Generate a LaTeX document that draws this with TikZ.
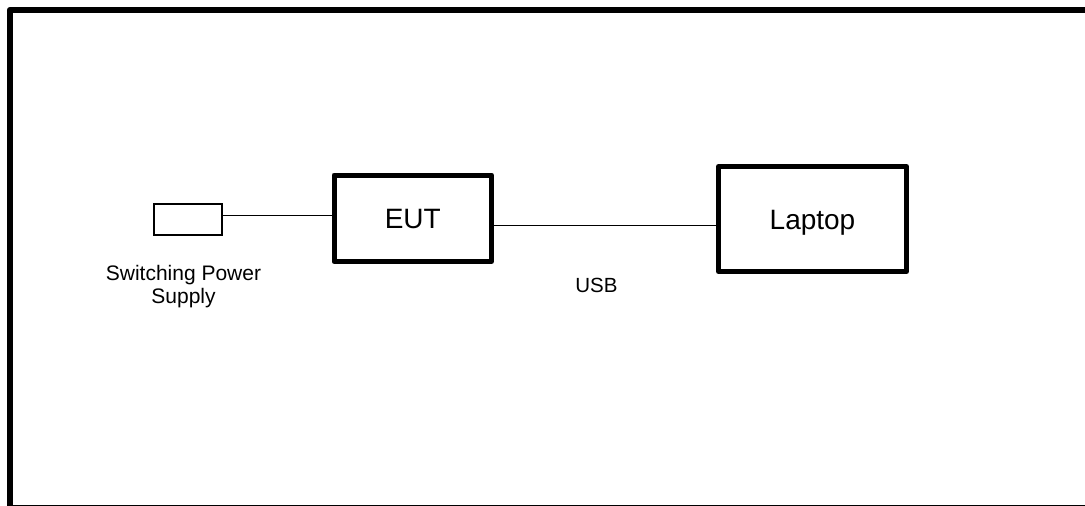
\documentclass[tikz,border=0pt]{standalone}
\usepackage{fontspec}
\setmainfont{Liberation Sans}
\begin{document}
\begin{tikzpicture}[x=1pt,y=-1pt,
  frame/.style={line width=5.5pt,line join=round},
  bigbox/.style={draw,line width=5pt,line join=round,inner sep=0pt,
    text height=20.3pt,text depth=0pt,font=\fontsize{28}{28}\selectfont},
  psubox/.style={draw,line width=2pt,inner sep=0pt,minimum width=68.6pt,minimum height=31.3pt},
  wire/.style={line width=1pt},
  lbl/.style={inner sep=0pt,align=center}]
\useasboundingbox (0,0) rectangle (1085,506);
\clip (0,0) rectangle (1085,506);
\fill[white] (0,0) rectangle (1085,506);
% outer frame (partly cut off)
\draw[frame] (9.75,520) -- (9.75,9.75) -- (1100,9.75);
\draw[line width=1.5pt] (9.75,505.5) -- (1100,505.5);
% nodes
\node[psubox] (psu) at (188,219.3) {};
\node[bigbox,minimum width=157.5pt,minimum height=86.5pt] (eut) at (412.75,218.25) {EUT};
\node[bigbox,minimum width=188pt,minimum height=105pt] (laptop) at (812.5,219) {Laptop};
% labels
\node[lbl,anchor=north,font=\fontsize{21}{23.5}\selectfont] (psulbl) at (183.5,264.6) {Switching Power\\Supply};
\node[lbl,anchor=base,font=\fontsize{20.5}{20.5}\selectfont] (usblbl) at (596.5,292.7) {USB};
% connectors
\draw[wire] ([yshift=4.3pt]psu.east) -- ([yshift=4.3pt]psu.east -| eut.west);
\draw[wire] ([yshift=-6.75pt]eut.east) -- ([yshift=-6.75pt]eut.east -| laptop.west);
\end{tikzpicture}
\end{document}
